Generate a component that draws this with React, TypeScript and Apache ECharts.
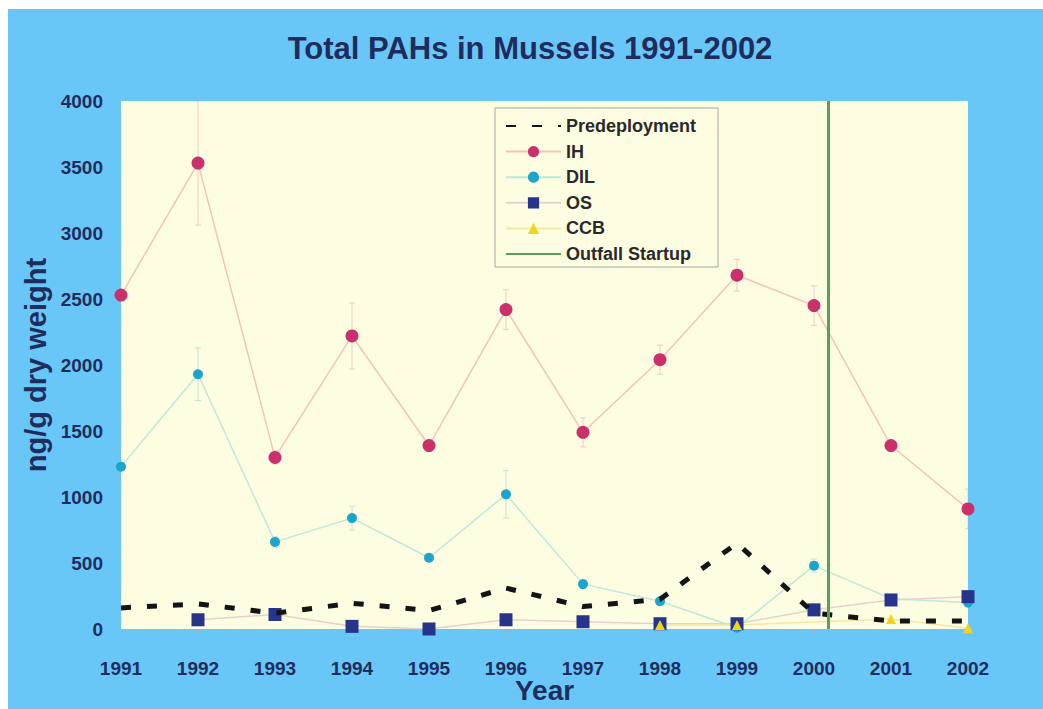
import React, { useEffect, useRef } from "react";
import * as echarts from "echarts";

const years = [1991, 1992, 1993, 1994, 1995, 1996, 1997, 1998, 1999, 2000, 2001, 2002];
const predeployment = [160, 190, 120, 195, 140, 310, 170, 225, 650, 120, 60, 60];
const ih = [2530, 3530, 1300, 2220, 1390, 2420, 1490, 2040, 2680, 2450, 1390, 910];
const ihErr = [0, 470, 50, 250, 40, 150, 110, 110, 120, 150, 40, 150];
const dil = [1230, 1930, 660, 840, 540, 1020, 340, 210, 10, 480, 230, 200];
const dilErr = [0, 200, 40, 90, 20, 180, 30, 20, 10, 50, 20, 20];
const os = [null, 70, 110, 20, 0, 70, 55, 40, 40, 145, 220, 245];
const ccb = [null, null, null, null, null, null, null, 30, 30, null, 75, 5];
const outfallStartup = 2000.18;
const yTicks = { min: 0, max: 4000, interval: 500 };

const NAVY = "#1e2d5e";
const FONT = "Liberation Sans";

function pairs(vals: (number | null)[]) {
  return years.map((y, i) => [y, vals[i]]).filter((p) => p[1] !== null);
}

function errData(vals: number[], errs: number[]) {
  return years
    .map((y, i) => [y, vals[i] - errs[i], vals[i] + errs[i]])
    .filter((_, i) => errs[i] > 0);
}

function errSeries(data: number[][], color: string) {
  return {
    type: "custom",
    clip: true,
    silent: true,
    z: 1,
    data,
    renderItem: (params: any, api: any) => {
      const x = api.value(0);
      const lo = api.coord([x, api.value(1)]);
      const hi = api.coord([x, api.value(2)]);
      const st = { stroke: color, lineWidth: 1 };
      return {
        type: "group",
        children: [
          { type: "line", shape: { x1: lo[0], y1: lo[1], x2: hi[0], y2: hi[1] }, style: st },
          { type: "line", shape: { x1: lo[0] - 3, y1: lo[1], x2: lo[0] + 3, y2: lo[1] }, style: st },
          { type: "line", shape: { x1: hi[0] - 3, y1: hi[1], x2: hi[0] + 3, y2: hi[1] }, style: st },
        ],
      };
    },
  };
}

export default function App() {
  const ref = useRef<HTMLDivElement>(null);
  useEffect(() => {
    document.body.style.margin = "0";
    const chart = echarts.init(ref.current!, null, { renderer: "svg" });
    chart.setOption({
      animation: false,
      backgroundColor: "#69c7f8",
      title: {
        text: "Total PAHs in Mussels 1991-2002",
        left: 517,
        top: 19,
        textAlign: "center",
        textStyle: { fontFamily: FONT, fontWeight: "bold", fontSize: 31, color: NAVY },
      },
      legend: {
        orient: "vertical",
        left: 487,
        top: 99,
        backgroundColor: "#fdfde2",
        borderColor: "#a8a8a0",
        borderWidth: 1,
        padding: [9, 22, 4, 10],
        itemWidth: 55,
        itemHeight: 14,
        itemGap: 7.6,
        textStyle: { fontFamily: FONT, fontWeight: "bold", fontSize: 18, color: "#2a2a2a" },
        data: ["Predeployment", "IH", "DIL", "OS", "CCB", "Outfall Startup"],
      },
      grid: {
        left: 113,
        right: 75,
        top: 92,
        bottom: 80,
        show: true,
        backgroundColor: "#fdfde2",
        borderWidth: 0,
        outerBoundsMode: "none",
        containLabel: false,
      },
      xAxis: {
        type: "value",
        min: 1991,
        max: 2002,
        interval: 1,
        name: "Year",
        nameLocation: "middle",
        nameGap: 47,
        nameMoveOverlap: false,
        nameTextStyle: { fontFamily: FONT, fontWeight: "bold", fontSize: 28, color: NAVY },
        splitLine: { show: false },
        axisLine: { show: true, lineStyle: { color: "#9fb4c4", width: 1 } },
        axisTick: { show: true, length: 5, lineStyle: { color: "#9fb4c4" } },
        axisLabel: {
          margin: 30,
          formatter: (v: number) => String(v),
          fontFamily: FONT,
          fontWeight: "bold",
          fontSize: 19,
          color: NAVY,
        },
      },
      yAxis: {
        type: "value",
        ...yTicks,
        name: "ng/g dry weight",
        nameLocation: "middle",
        nameGap: 71,
        nameMoveOverlap: false,
        nameRotate: 90,
        nameTextStyle: { fontFamily: FONT, fontWeight: "bold", fontSize: 29, color: NAVY },
        splitLine: { show: false },
        axisLine: { show: false },
        axisTick: { show: true, length: 4, lineStyle: { color: "#9fb4c4" } },
        axisLabel: {
          margin: 18,
          formatter: (v: number) => String(v),
          fontFamily: FONT,
          fontWeight: "bold",
          fontSize: 19,
          color: NAVY,
        },
      },
      series: [
        errSeries(errData(ih, ihErr), "#f0cac6"),
        errSeries(errData(dil, dilErr), "#c2e6da"),
        {
          name: "Predeployment",
          type: "line",
          data: pairs(predeployment),
          symbol: "none",
          z: 4,
          itemStyle: { color: "rgba(0,0,0,0)", borderWidth: 0 },
          lineStyle: { color: "#141414", width: 5, type: [10, 16] },
        },
        {
          name: "IH",
          type: "line",
          data: pairs(ih),
          symbol: "circle",
          symbolSize: 13,
          z: 3,
          itemStyle: { color: "#c9306c" },
          lineStyle: { color: "#f2c4bc", width: 1.5 },
        },
        {
          name: "DIL",
          type: "line",
          data: pairs(dil),
          symbol: "circle",
          symbolSize: 10,
          z: 3,
          itemStyle: { color: "#1ba5cc" },
          lineStyle: { color: "#bfe8d8", width: 1.5 },
        },
        {
          name: "OS",
          type: "line",
          data: pairs(os),
          symbol: "rect",
          symbolSize: 13,
          z: 3,
          itemStyle: { color: "#27348b" },
          lineStyle: { color: "#e6d2cc", width: 1.5 },
        },
        {
          name: "CCB",
          type: "line",
          data: pairs(ccb),
          symbol: "triangle",
          symbolSize: 10,
          z: 3,
          itemStyle: { color: "#f4d41a" },
          lineStyle: { color: "#f3e8a8", width: 1.5 },
        },
        {
          name: "Outfall Startup",
          type: "line",
          data: [],
          symbol: "none",
          itemStyle: { color: "rgba(0,0,0,0)", borderWidth: 0 },
          lineStyle: { color: "#5c9e5c", width: 3 },
          markLine: {
            silent: true,
            symbol: "none",
            label: { show: false },
            lineStyle: { color: "#5c9e5c", width: 3, type: "solid" },
            data: [{ xAxis: outfallStartup }],
          },
        },
      ],
    });
    return () => chart.dispose();
  }, []);
  return (
    <div style={{ position: "fixed", left: 0, top: 0, width: 1043, height: 709, background: "#ffffff" }}>
      <div ref={ref} style={{ position: "absolute", left: 8, top: 9, width: 1035, height: 700 }} />
    </div>
  );
}
